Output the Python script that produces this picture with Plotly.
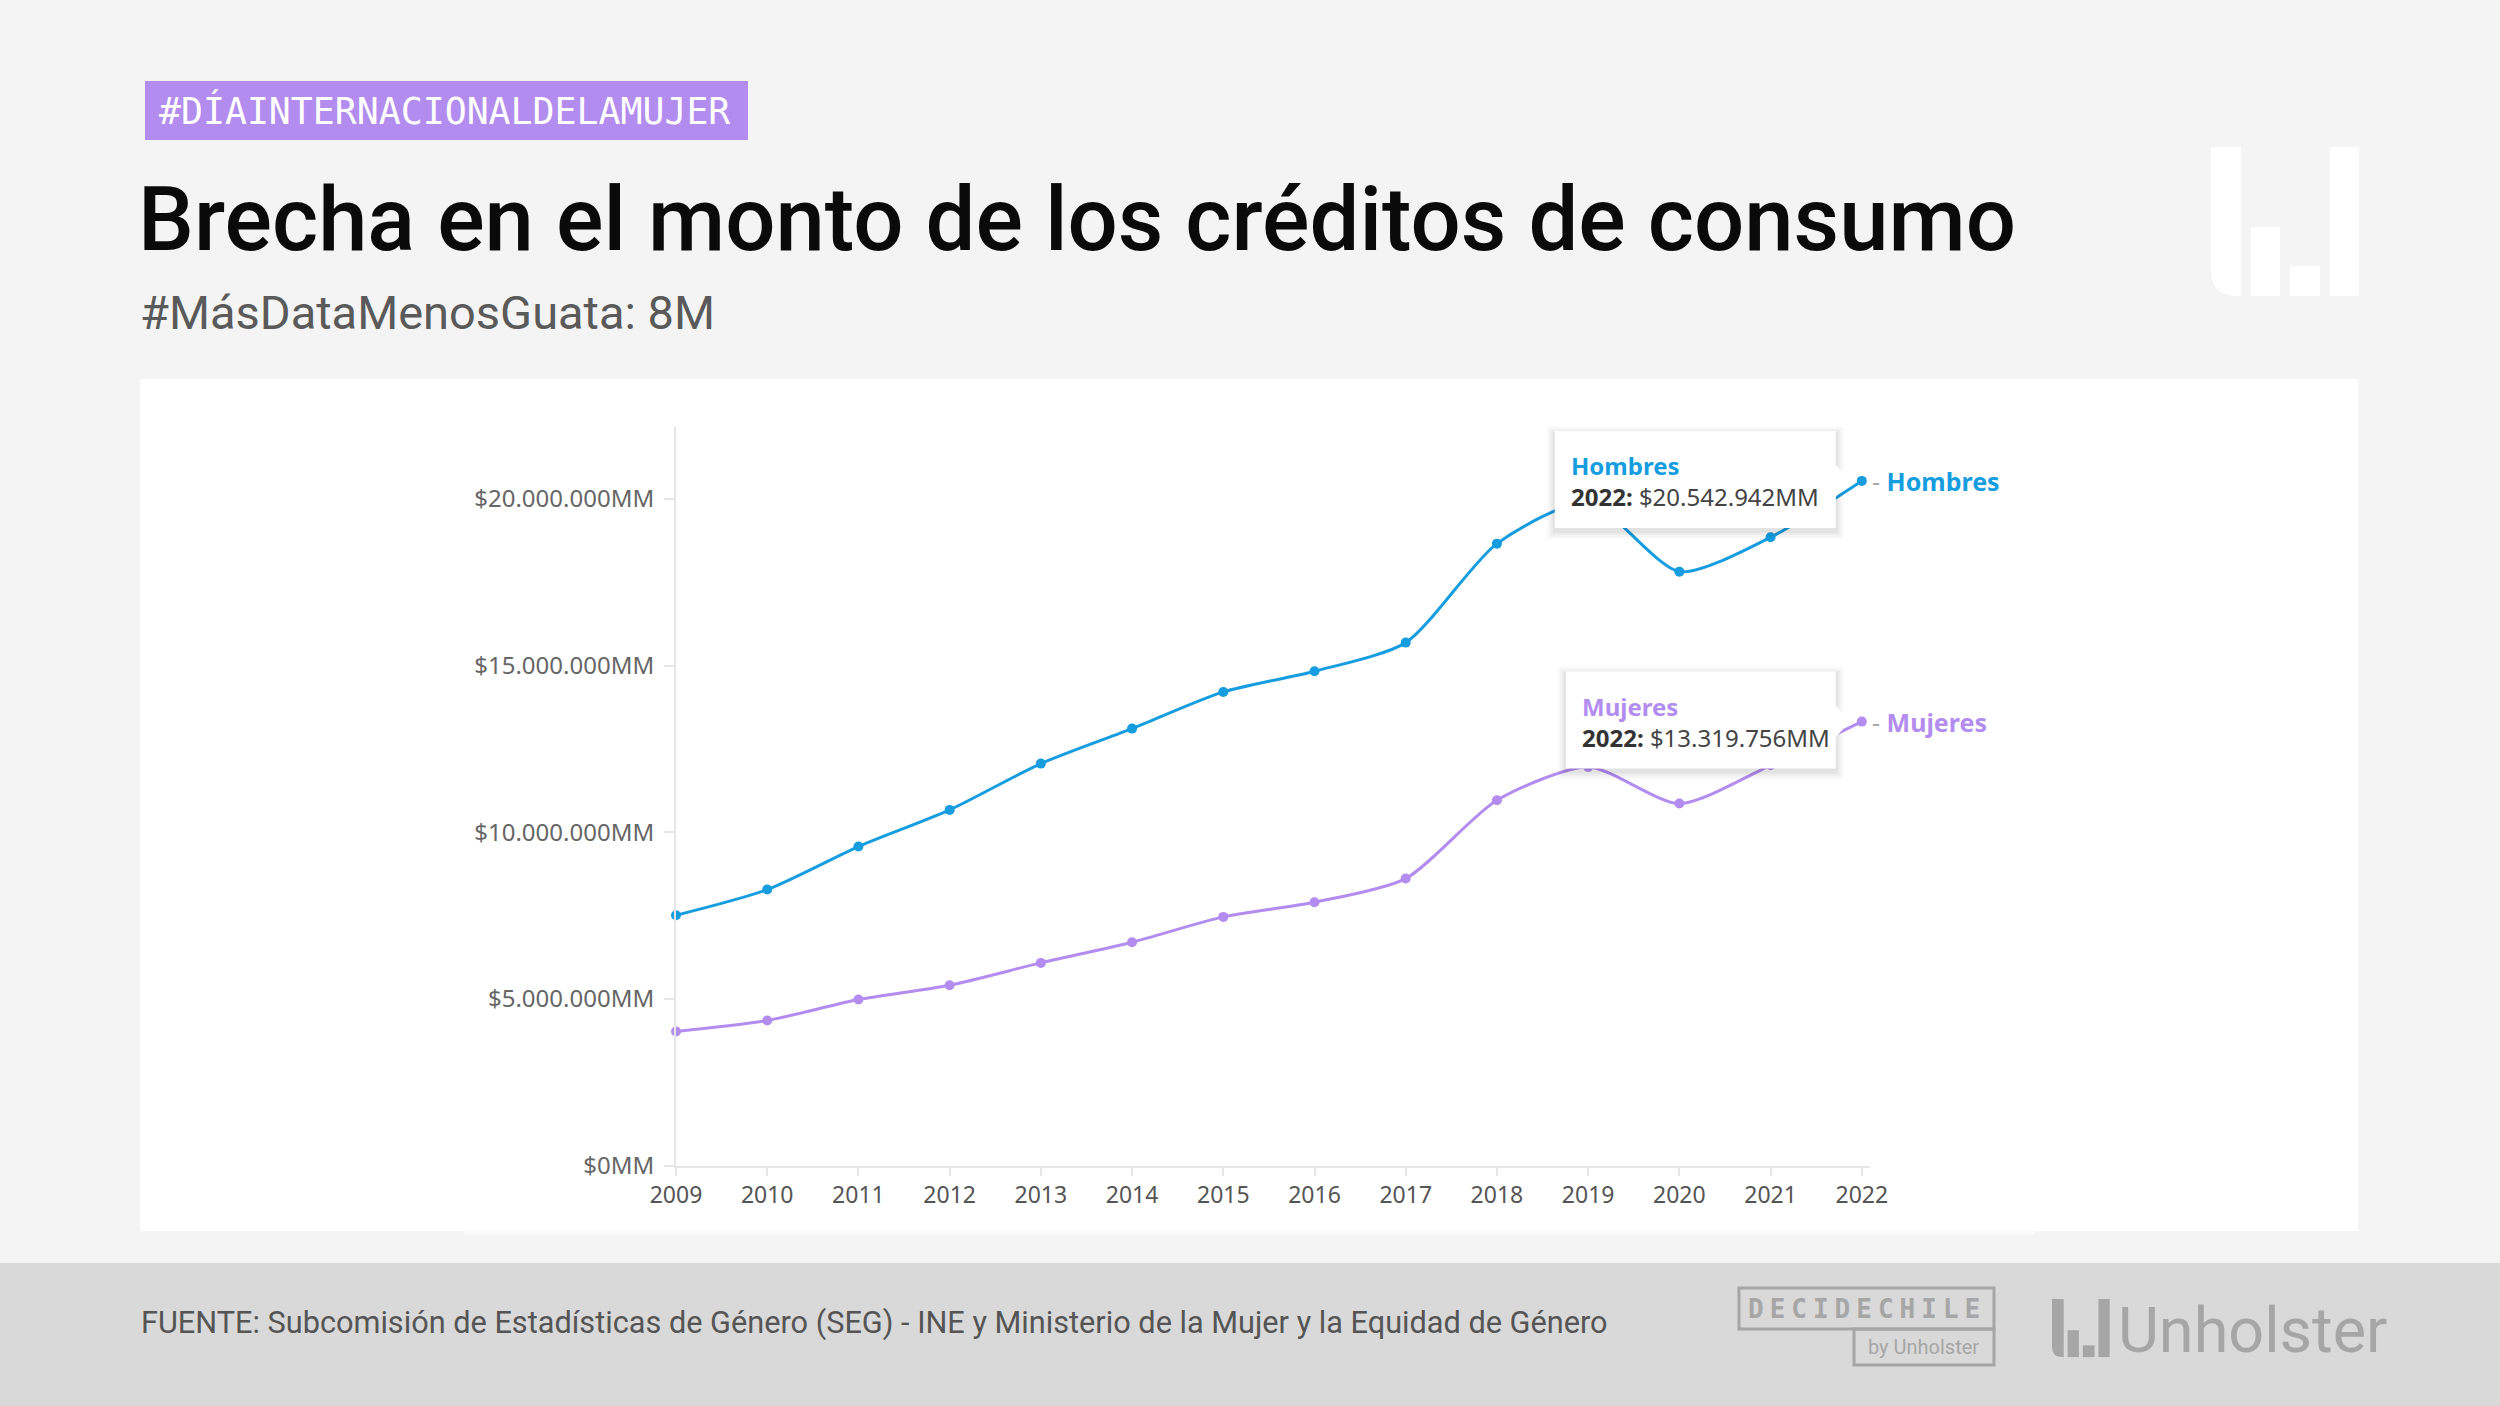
import plotly.graph_objects as go

W, H = 2500, 1406

# ---------------- data ----------------
years = [2009, 2010, 2011, 2012, 2013, 2014, 2015, 2016, 2017, 2018, 2019, 2020, 2021, 2022]
hombres = [7510000, 8280000, 9570000, 10670000, 12060000, 13110000, 14210000,
           14830000, 15690000, 18660000, 19900000, 17820000, 18850000, 20542942]
mujeres = [4020000, 4350000, 4980000, 5410000, 6080000, 6700000, 7460000,
           7900000, 8610000, 10960000, 11960000, 10860000, 12010000, 13319756]
series_names = ["Hombres", "Mujeres"]
y_ticks = [0, 5000000, 10000000, 15000000, 20000000]

title = "Brecha en el monto de los créditos de consumo"
subtitle = "#MásDataMenosGuata: 8M"
tag = "#DÍAINTERNACIONALDELAMUJER"
source = ("FUENTE: Subcomisión de Estadísticas de Género (SEG) - INE y Ministerio de la "
          "Mujer y la Equidad de Género")

# ---------------- style ----------------
BLUE = "#159de0"
PURPLE = "#b38cf0"
TAG = "#b28cee"
BG = "#f4f4f4"
FOOT = "#d9d9d9"
LOGO_GRAY = "#a6a6a6"
AXIS = "#e6e6e6"
FONT = "Noto Sans"


def fx(px):
    return px / W


def fy(py):
    return 1 - py / H


def fmt(v):
    return "$" + f"{v:,.0f}".replace(",", ".") + "MM"


fig = go.Figure()

for name, vals, col in zip(series_names, [hombres, mujeres], [BLUE, PURPLE]):
    fig.add_trace(go.Scatter(
        x=years, y=vals, mode="lines+markers", name=name,
        line=dict(color=col, width=3, shape="spline", smoothing=0.7),
        marker=dict(size=10, color=col),
        cliponaxis=False, hoverinfo="skip", showlegend=False,
    ))

shapes = []
annotations = []

# background panels
shapes.append(dict(type="rect", xref="paper", yref="paper", x0=fx(140), x1=fx(2358),
                   y0=fy(1231), y1=fy(379), fillcolor="white", line=dict(width=0), layer="below"))
shapes.append(dict(type="rect", xref="paper", yref="paper", x0=fx(464), x1=fx(2035),
                   y0=fy(1234), y1=fy(1230), fillcolor="#fbfbfb", line=dict(width=0), layer="below"))
shapes.append(dict(type="rect", xref="paper", yref="paper", x0=0, x1=1,
                   y0=0, y1=fy(1263), fillcolor=FOOT, line=dict(width=0), layer="below"))
shapes.append(dict(type="rect", xref="paper", yref="paper", x0=fx(145), x1=fx(748),
                   y0=fy(140), y1=fy(81), fillcolor=TAG, line=dict(width=0), layer="below"))


def logo_paths(ox, oy, s, color):
    out = []
    h = 149 * s
    r = 26 * s
    pts = [
        f"M{fx(ox)},{fy(oy)}",
        f"L{fx(ox + 30 * s)},{fy(oy)}",
        f"L{fx(ox + 30 * s)},{fy(oy + h)}",
        f"L{fx(ox + r)},{fy(oy + h)}",
        f"Q{fx(ox)},{fy(oy + h)} {fx(ox)},{fy(oy + h - r)}",
        "Z",
    ]
    out.append(dict(type="path", xref="paper", yref="paper", path=" ".join(pts),
                    fillcolor=color, line=dict(width=0), layer="below"))
    for x0, x1, top in [(40, 69, 80), (79, 109, 119), (119, 148, 0)]:
        out.append(dict(type="rect", xref="paper", yref="paper",
                        x0=fx(ox + x0 * s), x1=fx(ox + x1 * s),
                        y0=fy(oy + h), y1=fy(oy + top * s),
                        fillcolor=color, line=dict(width=0), layer="below"))
    return out


shapes += logo_paths(2211, 147, 1.0, "white")
shapes += logo_paths(2052, 1299, 0.39, LOGO_GRAY)

# DECIDECHILE boxes
shapes.append(dict(type="rect", xref="paper", yref="paper", x0=fx(1739), x1=fx(1994),
                   y0=fy(1329), y1=fy(1288), line=dict(color=LOGO_GRAY, width=3), layer="below"))
shapes.append(dict(type="rect", xref="paper", yref="paper", x0=fx(1854), x1=fx(1994),
                   y0=fy(1365), y1=fy(1329), line=dict(color=LOGO_GRAY, width=3), layer="below"))

# tooltips anchored on the last data point of each series
tip_widths = {"Hombres": 281, "Mujeres": 270}
for name, vals, col in zip(series_names, [hombres, mujeres], [BLUE, PURPLE]):
    xv, yv = years[-1], vals[-1]
    left = -26 - tip_widths[name]
    for k, a in [(8, 0.018), (6, 0.022), (4, 0.03), (2, 0.04)]:
        shapes.append(dict(type="rect", xref="x", yref="y", xsizemode="pixel", ysizemode="pixel",
                           xanchor=xv, yanchor=yv, x0=left - k, x1=-26 + k, y0=-47 - k - 3, y1=50 + k - 3,
                           fillcolor=f"rgba(0,0,0,{a})", line=dict(width=0), layer="above"))
    shapes.append(dict(type="rect", xref="x", yref="y", xsizemode="pixel", ysizemode="pixel",
                       xanchor=xv, yanchor=yv, x0=left, x1=-26, y0=-47, y1=50,
                       fillcolor="white", line=dict(width=0), layer="above"))
    shapes.append(dict(type="path", xref="x", yref="y", xsizemode="pixel", ysizemode="pixel",
                       xanchor=xv, yanchor=yv, path="M-27,17 L-12,0 L-27,-17 Z",
                       fillcolor="white", line=dict(width=0), layer="above"))
    annotations.append(dict(
        x=xv, y=yv, xref="x", yref="y", xanchor="left", yanchor="middle", xshift=left + 14,
        showarrow=False, align="left",
        text=f"<b><span style='color:{col}'>{name}</span></b><br><b style='color:#333'>{xv}:</b> {fmt(yv)}",
        font=dict(family=FONT, size=24, color="#444"),
    ))
    annotations.append(dict(
        x=xv, y=yv, xref="x", yref="y", xanchor="left", yanchor="middle", xshift=8,
        showarrow=False,
        text=f"<span style='color:#aaaaaa'>-</span> <b>{name}</b>",
        font=dict(family=FONT, size=25, color=col),
    ))

# header texts
annotations.append(dict(x=fx(444), y=fy(111), xref="paper", yref="paper", xanchor="center",
                        yanchor="middle", showarrow=False, text=tag,
                        font=dict(family="DejaVu Sans Mono", size=36.5, color="white")))
annotations.append(dict(x=fx(136), y=fy(220), xref="paper", yref="paper", xanchor="left",
                        yanchor="middle", showarrow=False, text=title,
                        font=dict(family="Roboto", size=88.6, color="#0a0a0a", weight=500)))
annotations.append(dict(x=fx(138), y=fy(312), xref="paper", yref="paper", xanchor="left",
                        yanchor="middle", showarrow=False, text=subtitle,
                        font=dict(family="Roboto", size=47, color="#5a5a5a")))
annotations.append(dict(x=fx(139), y=fy(1323), xref="paper", yref="paper", xanchor="left",
                        yanchor="middle", showarrow=False, text=source,
                        font=dict(family="Roboto", size=30.7, color="#555555")))
annotations.append(dict(x=fx(1867), y=fy(1309), xref="paper", yref="paper", xanchor="center",
                        yanchor="middle", showarrow=False,
                        text="<b><span style='letter-spacing:6px'>DECIDECHILE</span></b>",
                        font=dict(family="DejaVu Sans Mono", size=26, color=LOGO_GRAY)))
annotations.append(dict(x=fx(1924), y=fy(1347), xref="paper", yref="paper", xanchor="center",
                        yanchor="middle", showarrow=False, text="by Unholster",
                        font=dict(family="Roboto", size=20, color=LOGO_GRAY)))
annotations.append(dict(x=fx(2116), y=fy(1330), xref="paper", yref="paper", xanchor="left",
                        yanchor="middle", showarrow=False, text="Unholster",
                        font=dict(family="Roboto", size=63, color=LOGO_GRAY)))

fig.update_layout(
    width=W, height=H, autosize=False,
    margin=dict(l=0, r=0, t=0, b=0, pad=0, autoexpand=False),
    paper_bgcolor=BG, plot_bgcolor="rgba(0,0,0,0)",
    shapes=shapes, annotations=annotations,
    xaxis=dict(domain=[fx(676), fx(1870)], range=[2009, 2022.09], automargin=False,
               tickvals=years, ticktext=[str(y) for y in years],
               ticks="outside", ticklen=8, tickwidth=2, tickcolor=AXIS,
               showline=True, linecolor=AXIS, linewidth=2,
               showgrid=False, zeroline=False,
               tickfont=dict(family=FONT, size=23, color="#555555")),
    yaxis=dict(domain=[fy(1165.5), fy(427)], range=[0, 22160000], automargin=False,
               tickvals=y_ticks, ticktext=[fmt(v) for v in y_ticks],
               ticks="outside", ticklen=10, tickwidth=2, tickcolor=AXIS,
               ticklabelstandoff=5,
               showline=True, linecolor=AXIS, linewidth=2,
               showgrid=False, zeroline=False,
               tickfont=dict(family=FONT, size=24, color="#666666")),
)

fig.write_html(
    "out.html",
    config={"responsive": False, "displayModeBar": False},
    default_width="2500px", default_height="1406px",
    post_script="document.body.style.margin='0';document.body.style.overflow='hidden';",
)
